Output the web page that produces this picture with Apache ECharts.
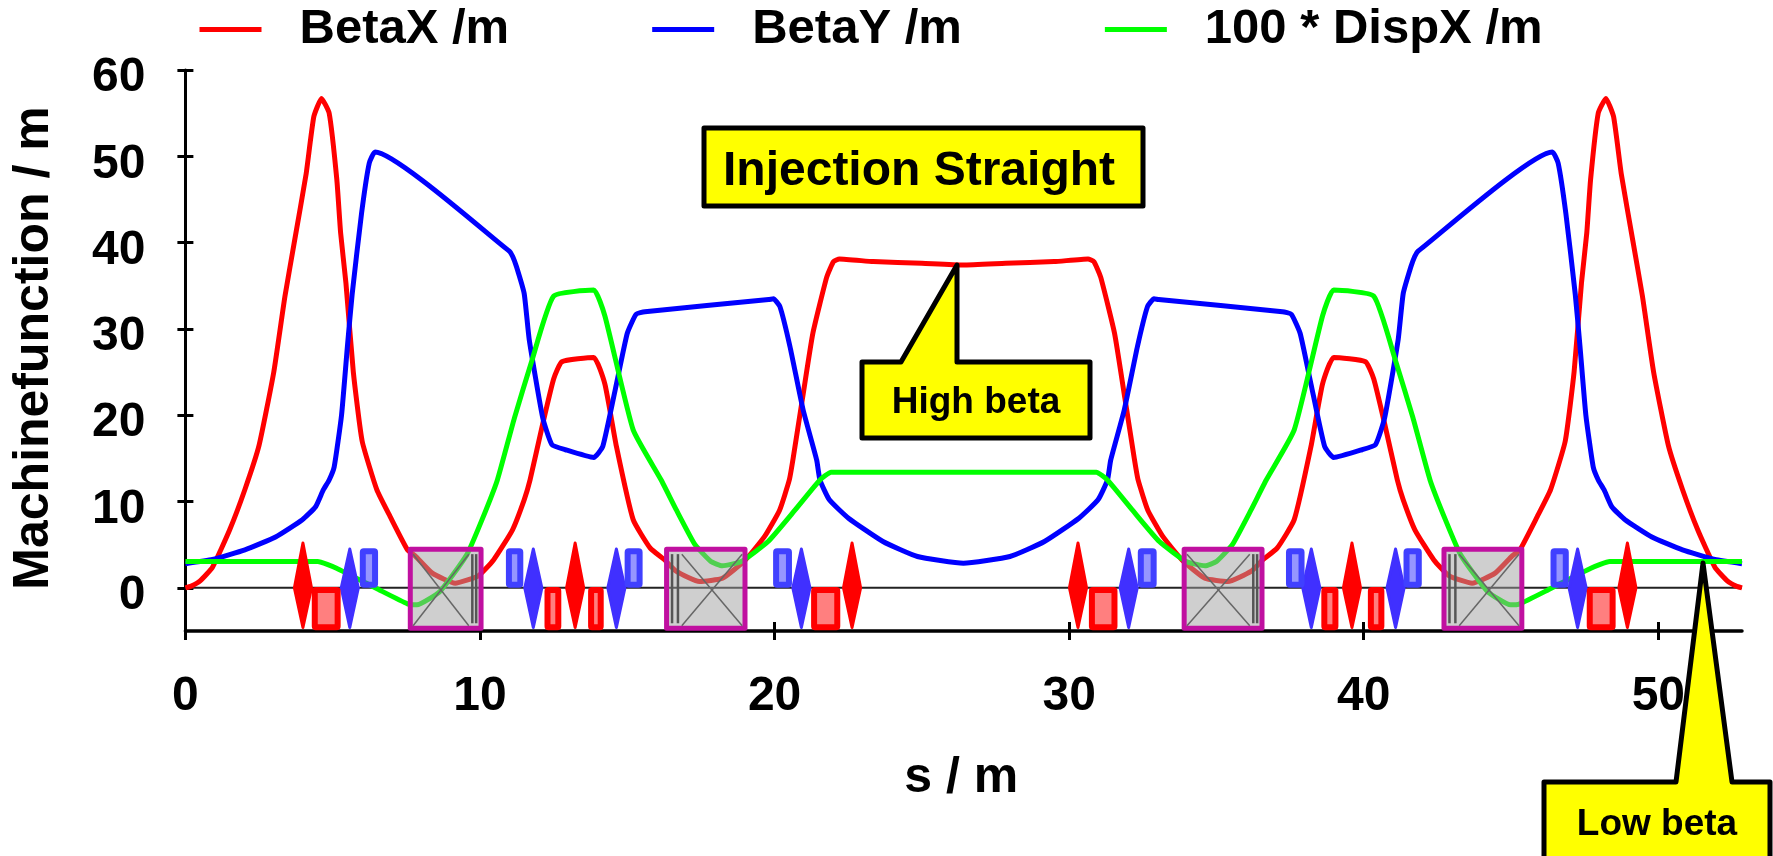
<!DOCTYPE html>
<html><head><meta charset="utf-8">
<script src="https://cdn.jsdelivr.net/npm/echarts@6/dist/echarts.min.js"></script>
<style>html,body{margin:0;padding:0;background:#fff}#c{width:1773px;height:856px}</style>
</head><body><div id="c"></div>
<script>
const betaX=[[0,0],[.2,.2],[.5,.8],[.92,2.4],[1.5,6.7],[2.02,11.4],[2.5,16.5],[3,25],[3.38,33.8],[3.71,40.3],[4.1,48],[4.36,54.6],[4.62,56.7],[4.88,55],[5.14,47.3],[5.27,41.1],[5.45,35.3],[5.7,25],[6,17],[6.5,11.35],[6.95,8.26],[7.54,4.4],[7.8,3.7],[8.38,1.7],[9.16,.54],[9.94,1.39],[10.46,3.24],[11.1,6.7],[11.5,10.2],[11.7,12.5],[12.13,19],[12.5,24.2],[12.78,26.2],[13.86,26.7],[14.24,23.6],[14.63,16.4],[15.2,7.9],[15.78,4.6],[16.28,3.2],[16.67,1.9],[17.45,.73],[18.23,1.1],[19,3.2],[19.65,5.9],[20.17,9],[20.5,12.5],[20.63,15],[20.95,22],[21.3,29.5],[21.77,36],[22,37.8],[22.2,38.1],[23.35,37.8],[25,37.6],[26.4,37.4],
[27.84,37.6],[29.49,37.8],[30.64,38.1],[30.84,37.8],[31.07,36],[31.54,29.5],[31.89,22],[32.21,15],[32.34,12.5],[32.67,9],[33.19,5.9],[33.84,3.2],[34.61,1.1],[35.39,.73],[36.17,1.9],[36.56,3.2],[37.06,4.6],[37.64,7.9],[38.21,16.4],[38.6,23.6],[38.98,26.7],[40.06,26.2],[40.34,24.2],[40.71,19],[41.14,12.5],[41.34,10.2],[41.74,6.7],[42.38,3.24],[42.9,1.39],[43.68,.54],[44.46,1.7],[45.04,3.7],[45.3,4.4],[45.89,8.26],[46.34,11.35],[46.84,17],[47.14,25],[47.39,35.3],[47.57,41.1],[47.7,47.3],[47.96,55],[48.22,56.7],[48.48,54.6],[48.74,48],[49.13,40.3],[49.46,33.8],[49.84,25],[50.34,16.5],[50.82,11.4],[51.34,6.7],[51.92,2.4],[52.34,.8],[52.64,.2],[52.84,0]];
const betaY=[[0,2.8],[.92,3.3],[2.02,4.4],[3.06,5.9],[3.97,7.9],[4.42,9.4],[4.68,11.35],[4.88,12.5],[5.05,14],[5.3,20],[5.5,28],[5.66,34],[5.98,43.4],[6.24,49.2],[6.44,50.5],[11,39],[11.11,38.4],[11.24,37.2],[11.5,34.1],[11.67,28.8],[12.13,19.7],[12.44,16.6],[12.9,16],[13.86,15.1],[14.17,16.4],[14.63,23.6],[15,29.5],[15.3,31.7],[15.6,32],[19.8,33.4],[19.96,33.5],[20.18,32.6],[20.52,28],[20.97,20.6],[21.43,14.8],[21.54,12.5],[21.86,10.2],[22.51,8.07],[23.68,5.37],[24.85,3.63],[26.41,2.86],
[27.99,3.63],[29.16,5.37],[30.33,8.07],[30.98,10.2],[31.3,12.5],[31.41,14.8],[31.87,20.6],[32.32,28],[32.66,32.6],[32.88,33.5],[33.04,33.4],[37.24,32],[37.54,31.7],[37.84,29.5],[38.21,23.6],[38.67,16.4],[38.98,15.1],[39.94,16],[40.4,16.6],[40.71,19.7],[41.17,28.8],[41.34,34.1],[41.6,37.2],[41.73,38.4],[41.84,39],[46.4,50.5],[46.6,49.2],[46.86,43.4],[47.18,34],[47.34,28],[47.54,20],[47.79,14],[47.96,12.5],[48.16,11.35],[48.42,9.4],[48.87,7.9],[49.78,5.9],[50.82,4.4],[51.92,3.3],[52.84,2.8]];
const dispX=[[0,3.05],[4.49,3.05],[5.13,2.28],[6.56,-.2],[7.54,-1.85],[7.86,-1.97],[8.64,-.42],[9.55,3.82],[10.07,7.9],[10.59,12.5],[11.17,19.7],[11.75,26.2],[12.5,33.8],[13.86,34.5],[14.24,31.5],[15.2,18.3],[16.15,12.5],[16.67,9],[17.3,5],[17.84,3.05],[18.23,2.55],[18.87,3.05],[19.78,5.37],[20.69,9],[21.54,12.5],[21.92,13.4],[26.4,13.4],
[30.92,13.4],[31.3,12.5],[32.15,9],[33.06,5.37],[33.97,3.05],[34.61,2.55],[35,3.05],[35.54,5],[36.17,9],[36.69,12.5],[37.64,18.3],[38.6,31.5],[38.98,34.5],[40.34,33.8],[41.09,26.2],[41.67,19.7],[42.25,12.5],[42.77,7.9],[43.29,3.82],[44.2,-.42],[44.98,-1.97],[45.3,-1.85],[46.28,-.2],[47.71,2.28],[48.35,3.05],[52.84,3.05]];
const redQuads=[[3.99],[13.23],[22.63],[30.3],[39.6],[48.95]];
const blueQuads=[[5.58],[11.81],[14.63],[20.91],[32.02],[38.22],[41.08],[47.26]];
const redSext=[[4.29,5.27],[12.19,12.76],[13.67,14.2],[21.24,22.23],[30.67,31.64],[38.56,39.14],[40.14,40.7],[47.57,48.55]];
const blueSext=[[5.92,6.54],[10.88,11.47],[14.91,15.52],[19.95,20.59],[32.33,32.97],[37.36,37.99],[41.35,41.97],[46.34,46.96]];
const dipoles=[[7.6,10.07,1],[16.3,19.03,0],[33.87,36.58,1],[42.69,45.4,0]];
const zeroLine=[[0,0],[52.84,0]];
const xTicks=[0,10,20,30,40,50];
const yTicks=[0,10,20,30,40,50,60];
const names=['BetaX /m','BetaY /m','100 * DispX /m'];

const font='"Liberation Sans", Arial, sans-serif';
const chart=echarts.init(document.getElementById('c'),null,{renderer:'canvas'});
const lineSeries=(name,data,color)=>({type:'line',name,data,showSymbol:false,symbol:'none',smooth:0.15,animation:false,z:3,silent:true,
  lineStyle:{color,width:5,join:'round'},itemStyle:{color}});
const quad=(color,top,bottom)=>(p,api)=>{
  const c=api.value(0),w=0.29,a=api.coord([c,top]),b=api.coord([c,bottom]),l=api.coord([c-w,0]),r=api.coord([c+w,0]);
  return {type:'polygon',shape:{points:[a,[r[0],r[1]],b,[l[0],l[1]]]},style:{fill:color,stroke:color,lineWidth:3,lineJoin:'round'}};
};
const sext=(color,fill,top,bottom)=>(p,api)=>{
  const a=api.coord([api.value(0),top]),b=api.coord([api.value(1),bottom]),lw=6;
  return {type:'rect',shape:{x:a[0]+lw/2,y:a[1]+lw/2,width:b[0]-a[0]-lw,height:b[1]-a[1]-lw,r:1},
    style:{fill,stroke:color,lineWidth:lw,lineJoin:'round'}};
};
const dip=(p,api)=>{
  const s=api.value(0),e=api.value(1),right=api.value(2)===1,top=4.6,bot=-4.8,lw=5;
  const a=api.coord([s,top]),b=api.coord([e,bot]);
  const xa=right?s+.13:s+.55,xb=right?e-.45:e-.13;
  const pa=api.coord([xa,3.9]),pb=api.coord([xb,-4.4]);
  const b1=api.coord([right?e-.33:s+.22,0])[0],b2=api.coord([right?e-.2:s+.42,0])[0];
  const ln=(x1,y1,x2,y2,w,c)=>({type:'line',shape:{x1,y1,x2,y2},style:{stroke:c,lineWidth:w}});
  return {type:'group',children:[
    {type:'rect',shape:{x:a[0]+1,y:a[1]+1,width:b[0]-a[0]-2,height:b[1]-a[1]-2},
      style:{fill:'rgba(160,160,160,0.5)',stroke:'#c010a0',lineWidth:lw,lineJoin:'round'}},
    ln(pa[0],pa[1],pb[0],pb[1],1.5,'#666'),ln(pa[0],pb[1],pb[0],pa[1],1.5,'#666'),
    ln(b1,a[1]+6,b1,b[1]-6,2.5,'#555'),ln(b2,a[1]+6,b2,b[1]-6,2.5,'#555')
  ]};
};
const custom=(data,renderItem,dims)=>({type:'custom',data,renderItem,clip:false,silent:true,z:5,animation:false,encode:{x:dims}});
const callout=(pts)=>({type:'polygon',z:20,shape:{points:pts},style:{fill:'#ffff00',stroke:'#000',lineWidth:5,lineJoin:'round'}});
const label=(x,y,text,size)=>({type:'text',z:21,x,y,style:{text,fill:'#000',font:'bold '+size+'px '+font,textAlign:'center',textVerticalAlign:'middle'}});

chart.setOption({
  animation:false,backgroundColor:'#fff',
  textStyle:{fontFamily:font},
  grid:{left:185.4,right:31,top:70,bottom:225,containLabel:false},
  legend:{data:names,left:194.5,top:0,icon:'rect',itemWidth:62,itemHeight:5,itemGap:143,selectedMode:false,
    textStyle:{fontFamily:font,fontWeight:'bold',fontSize:49,color:'#000',padding:[2,0,0,33]}},
  xAxis:[
    {type:'value',min:0,max:52.84,position:'bottom',name:'s / m',nameLocation:'middle',nameGap:122,
      nameTextStyle:{fontFamily:font,fontWeight:'bold',fontSize:50,color:'#000',padding:[0,5,0,0]},
      splitLine:{show:false},
      axisLine:{show:true,onZero:false,lineStyle:{color:'#000',width:3.5}},
      axisTick:{show:true,length:9,customValues:xTicks,lineStyle:{color:'#000',width:3}},
      axisLabel:{show:true,customValues:xTicks,margin:42,fontFamily:font,fontWeight:'bold',fontSize:48,color:'#000'}},
    {type:'value',min:0,max:52.84,position:'bottom',splitLine:{show:false},
      axisLine:{show:false,onZero:false},axisLabel:{show:false},
      axisTick:{show:true,inside:true,length:9,customValues:[10,20,30,40,50],lineStyle:{color:'#000',width:3}}}
  ],
  yAxis:[
    {type:'value',min:-5,max:60,position:'left',name:'Machinefunction / m',nameLocation:'middle',nameGap:126,nameRotate:90,
      nameTextStyle:{fontFamily:font,fontWeight:'bold',fontSize:50,color:'#000',padding:[0,0,0,5]},
      splitLine:{show:false},
      axisLine:{show:true,onZero:false,lineStyle:{color:'#000',width:3}},
      axisTick:{show:true,length:8,customValues:yTicks,lineStyle:{color:'#000',width:3}},
      axisLabel:{show:true,customValues:yTicks,margin:40,verticalAlign:'top',lineHeight:16,fontFamily:font,fontWeight:'bold',fontSize:48,color:'#000'}},
    {type:'value',min:-5,max:60,position:'left',splitLine:{show:false},
      axisLine:{show:false,onZero:false},axisLabel:{show:false},
      axisTick:{show:true,inside:true,length:8,customValues:yTicks,lineStyle:{color:'#000',width:3}}}
  ],
  series:[
    {type:'line',name:'zero',data:zeroLine,symbol:'none',silent:true,z:1,lineStyle:{color:'#222',width:2}},
    lineSeries(names[0],betaX,'#ff0000'),
    lineSeries(names[1],betaY,'#0000ff'),
    lineSeries(names[2],dispX,'#00ff00'),
    custom(redQuads,quad('#ff0000',5.2,-4.6),[0]),
    custom(blueQuads,quad('#4030ff',4.5,-4.6),[0]),
    custom(redSext,sext('#ff0000','rgba(255,0,0,0.5)',0.1,-4.9),[0,1]),
    custom(blueSext,sext('#4040ff','rgba(64,64,255,0.55)',4.6,0),[0,1]),
    custom(dipoles,dip,[0,1])
  ],
  graphic:[
    {type:'rect',z:20,shape:{x:704,y:128,width:439,height:78},style:{fill:'#ffff00',stroke:'#000',lineWidth:5,lineJoin:'round'}},
    label(919,172,'Injection Straight',48),
    callout([[862,362],[901,362],[957,265],[957,362],[1090,362],[1090,438],[862,438]]),
    label(976,403,'High beta',37),
    callout([[1544,782],[1676,782],[1703,563],[1732,782],[1770,782],[1770,880],[1544,880]]),
    label(1657,825,'Low beta',37)
  ]
});
</script></body></html>
